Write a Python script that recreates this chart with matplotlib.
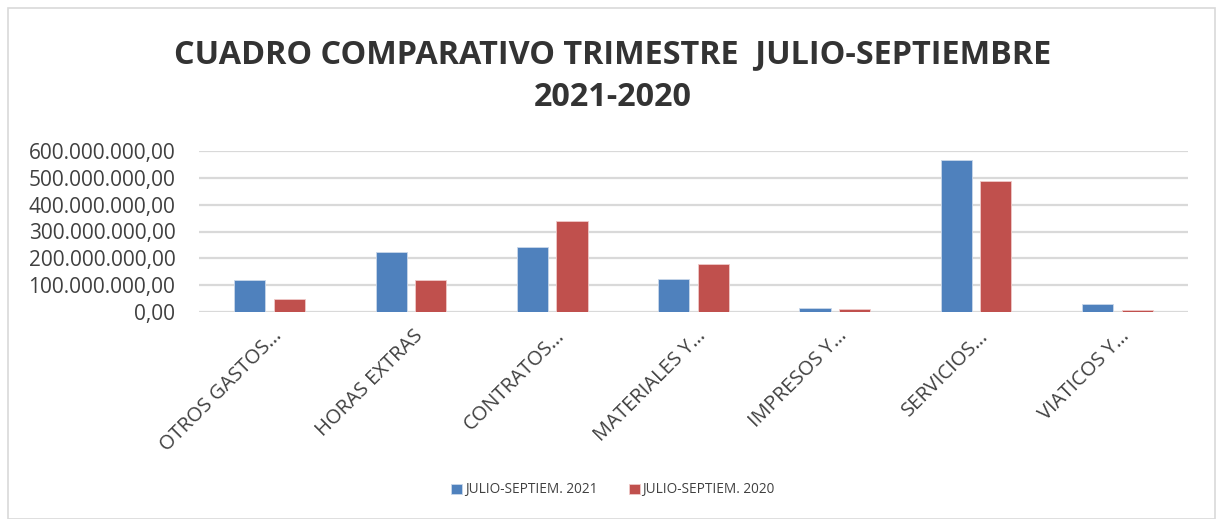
import matplotlib
matplotlib.use("Agg")
import matplotlib.pyplot as plt
import matplotlib.transforms as mtransforms
from matplotlib.patches import Rectangle
from matplotlib.ticker import FuncFormatter
import numpy as np

categories = ["OTROS GASTOS…", "HORAS EXTRAS", "CONTRATOS…", "MATERIALES Y…",
              "IMPRESOS Y…", "SERVICIOS…", "VIATICOS Y…"]
series_names = ["JULIO-SEPTIEM. 2021", "JULIO-SEPTIEM. 2020"]
values_2021 = [119e6, 224e6, 242e6, 123e6, 15e6, 566e6, 30e6]
values_2020 = [50e6, 120e6, 340e6, 179e6, 11e6, 488e6, 7e6]
yticks = [0, 100e6, 200e6, 300e6, 400e6, 500e6, 600e6]

BLUE = "#4F81BD"
RED = "#C0504D"
TXT = "#404040"

plt.rcParams['font.family'] = ['Open Sans', 'DejaVu Sans']

fig = plt.figure(figsize=(12.18, 5.19), dpi=100)
fig.patches.append(Rectangle((8/1218, 0), (1215-8)/1218, 1-8/519, transform=fig.transFigure,
                             fill=False, edgecolor="#d9d9d9", linewidth=1.2))

ax = fig.add_axes([199/1218, 1-312/519, (1188-199)/1218, (312-151)/519])
x = np.arange(len(categories))
bw = 0.22
gap = 0.06
ax.bar(x - (bw+gap)/2, values_2021, bw, color=BLUE, edgecolor="#c9d7ea", linewidth=0.6,
       label=series_names[0], zorder=3)
ax.bar(x + (bw+gap)/2, values_2020, bw, color=RED, edgecolor="#efc9c8", linewidth=0.6,
       label=series_names[1], zorder=3)

ax.set_xlim(-0.5, len(categories)-0.5)
ax.set_ylim(0, 600e6)
ax.set_yticks(yticks)
def fmt(v, pos):
    s = f"{v:,.2f}"
    return s.replace(",", "X").replace(".", ",").replace("X", ".")
ax.yaxis.set_major_formatter(FuncFormatter(fmt))
ax.grid(axis='y', color="#d9d9d9", linewidth=1.6, zorder=0)
for s in ax.spines.values():
    s.set_visible(False)
ax.tick_params(axis='y', length=0, pad=17, labelsize=15, labelcolor=TXT)
ax.tick_params(axis='x', length=0, pad=10, labelsize=14.5, labelcolor=TXT)
ax.set_xticks(x)
ax.set_xticklabels(categories, rotation=45, ha='right', rotation_mode='anchor')
offset = mtransforms.ScaledTranslation(2/100, 0, fig.dpi_scale_trans)
for lbl in ax.get_xticklabels():
    lbl.set_transform(lbl.get_transform() + offset)

fig.text(613/1218, 1-55/519, "CUADRO COMPARATIVO TRIMESTRE  JULIO-SEPTIEMBRE",
         ha='center', va='center', fontsize=23.3, fontweight='bold', color="#333333")
fig.text(613/1218, 1-97/519, "2021-2020",
         ha='center', va='center', fontsize=23.3, fontweight='bold', color="#333333")

fig.legend(loc='center', bbox_to_anchor=(613/1218, 1-490/519), ncol=2, frameon=False,
           fontsize=9.8, handlelength=0.8, handleheight=0.8, handletextpad=0.2,
           columnspacing=2.3, labelcolor=TXT)

fig.savefig("out.png", dpi=100)
